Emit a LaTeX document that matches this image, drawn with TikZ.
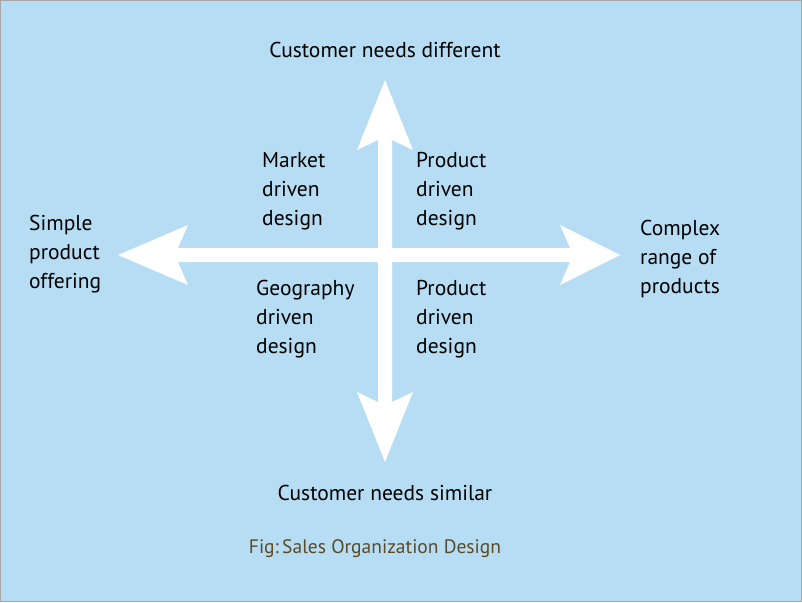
\documentclass[tikz,border=0pt]{standalone}
\usepackage{fontspec}
\setmainfont{PT Sans}
\begin{document}
\begin{tikzpicture}[x=1pt,y=-1pt]
\definecolor{bg}{HTML}{B6DDF3}
\definecolor{cap}{HTML}{5A4A28}
\tikzset{lbl/.style={font=\fontsize{21.5}{29}\selectfont,align=left,anchor=north west,inner sep=0},
 ctr/.style={font=\fontsize{21.5}{29}\selectfont,inner sep=0},
 arr/.style={fill=white,draw=none}}
\fill[bg,draw=gray!70,line width=1pt] (0.5,0.5) rectangle (801.5,601.5);
\useasboundingbox (0,0) rectangle (802,602);
\coordinate (L) at (118,255); \coordinate (R) at (620,255);
\coordinate (T) at (385,80); \coordinate (B) at (385,462);
% horizontal arrow
\fill[arr] (L) -- (188,225) -- (178,248) -- (570,248) -- (560,225) -- (R) -- (560,285) -- (570,262) -- (178,262) -- (188,285) -- cycle;
% vertical arrow
\fill[arr] (T) -- (413,150) -- (392,140) -- (392,402) -- (413,392) -- (B) -- (357,392) -- (378,402) -- (378,140) -- (357,150) -- cycle;
\node[ctr] (top) at (385,50) {Customer needs different};
\node[ctr] (bot) at (385,493) {Customer needs similar};
\node[lbl] (md) at (262,152) {Market\\driven\\design};
\node[lbl] (pd1) at (416,152) {Product\\driven\\design};
\node[lbl] (sp) at (29,215) {Simple\\product\\offering};
\node[lbl] (cx) at (640,220) {Complex\\range of\\products};
\node[lbl] (gd) at (256,280) {Geography\\driven\\design};
\node[lbl] (pd2) at (416,280) {Product\\driven\\design};
\node[font=\fontsize{19.5}{22}\selectfont,text=cap,inner sep=0] (fig) at (375,549) {Fig:\,Sales Organization Design};
\end{tikzpicture}
\end{document}
